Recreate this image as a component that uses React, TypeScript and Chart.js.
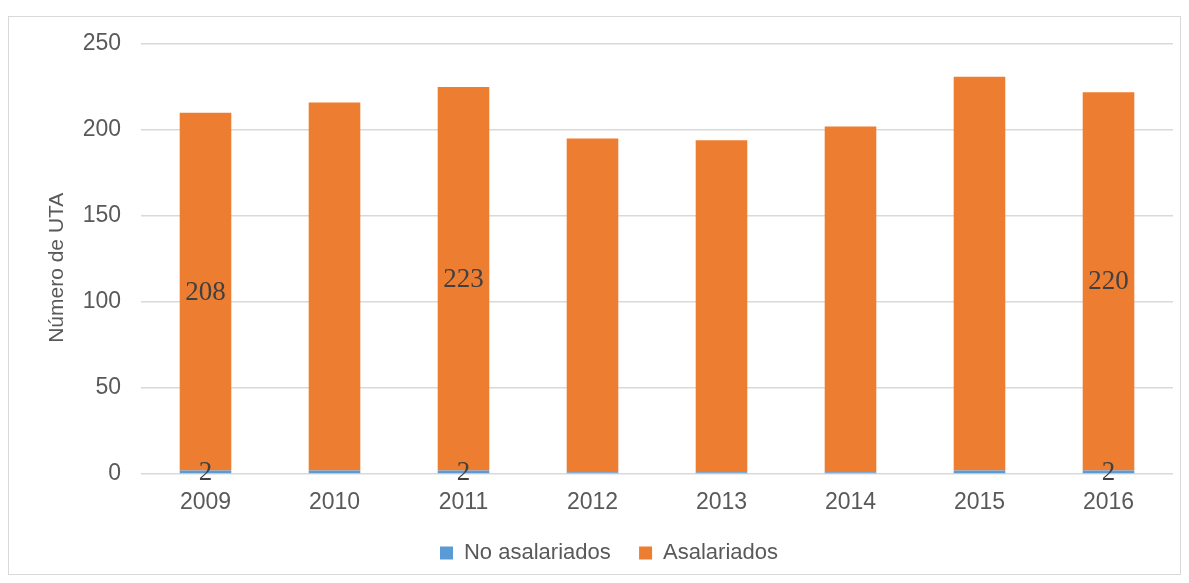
import React, { useEffect, useRef } from "react";
import { Chart, registerables } from "chart.js";

Chart.register(...registerables);

const categories = ["2009", "2010", "2011", "2012", "2013", "2014", "2015", "2016"];
const noAsalariados = [2, 2, 2, 1, 1, 1, 2, 2];
const asalariados = [208, 214, 223, 194, 193, 201, 229, 220];
const labelledIndices = [0, 2, 7];
const yTicks = [0, 50, 100, 150, 200, 250];
const seriesNames = ["No asalariados", "Asalariados"];
const yTitle = "Número de UTA";

const FONT = "'Liberation Sans', Arial, sans-serif";
const LABEL_FONT = "'Liberation Serif', serif";

const dataLabels = {
  id: "dataLabels",
  afterDatasetsDraw(chart: any) {
    const ctx = chart.ctx;
    ctx.save();
    ctx.font = `27px ${LABEL_FONT}`;
    ctx.fillStyle = "#404040";
    ctx.textAlign = "center";
    ctx.textBaseline = "middle";
    chart.data.datasets.forEach((ds: any, di: number) => {
      const meta = chart.getDatasetMeta(di);
      labelledIndices.forEach((i) => {
        const el = meta.data[i];
        if (!el) return;
        const { x, y, base } = el.getProps(["x", "y", "base"], true);
        ctx.fillText(String(ds.data[i]), x, (y + base) / 2 + 1);
      });
    });
    ctx.restore();
  },
};

export default function App() {
  const ref = useRef<HTMLCanvasElement | null>(null);
  useEffect(() => {
    if (!ref.current) return;
    const chart = new Chart(ref.current, {
      type: "bar",
      data: {
        labels: categories,
        datasets: [
          {
            label: seriesNames[0],
            data: noAsalariados,
            backgroundColor: "#5B9BD5",
            barPercentage: 0.4,
            categoryPercentage: 1,
          },
          {
            label: seriesNames[1],
            data: asalariados,
            backgroundColor: "#ED7D31",
            barPercentage: 0.4,
            categoryPercentage: 1,
          },
        ],
      },
      options: {
        animation: false,
        responsive: false,
        devicePixelRatio: 1,
        layout: { padding: { top: 27, right: 7, left: 36, bottom: 0 } },
        plugins: {
          legend: {
            position: "bottom",
            labels: {
              boxWidth: 13,
              boxHeight: 13,
              padding: 10,
              color: "#595959",
              font: { family: FONT, size: 22 },
              generateLabels: (c: any) => {
                const items = Chart.defaults.plugins.legend.labels.generateLabels(c);
                items.forEach((it: any, i: number) => {
                  if (i === 0) it.text = it.text + "   ";
                });
                return items;
              },
            },
          },
          tooltip: { enabled: false },
        },
        scales: {
          x: {
            stacked: true,
            grid: { display: false, drawTicks: false },
            border: { display: false },
            ticks: { color: "#595959", font: { family: FONT, size: 23 }, padding: 15 },
            afterFit: (s: any) => {
              s.height = 58;
              s.paddingLeft = 0;
              s.paddingRight = 0;
            },
          },
          y: {
            stacked: true,
            min: 0,
            max: 250,
            afterBuildTicks: (s: any) => {
              s.ticks = yTicks.map((v) => ({ value: v }));
            },
            grid: { color: "#d9d9d9", lineWidth: 1.5, drawTicks: false },
            border: { display: false },
            ticks: { color: "#595959", font: { family: FONT, size: 23 }, padding: 20 },
            title: {
              display: true,
              text: yTitle + "   ",
              color: "#595959",
              font: { family: FONT, size: 21 },
              padding: { top: 0, bottom: 0 },
            },
            afterFit: (s: any) => {
              s.width = 96;
              s.paddingTop = 0;
              s.paddingBottom = 0;
            },
          },
        },
      },
      plugins: [dataLabels],
    });
    return () => chart.destroy();
  }, []);
  return (
    <div
      style={{
        marginTop: 8,
        width: 1173,
        height: 559,
        border: "1px solid #d9d9d9",
        boxSizing: "border-box",
        background: "#fff",
      }}
    >
      <canvas ref={ref} width={1171} height={557} style={{ display: "block" }} />
    </div>
  );
}
